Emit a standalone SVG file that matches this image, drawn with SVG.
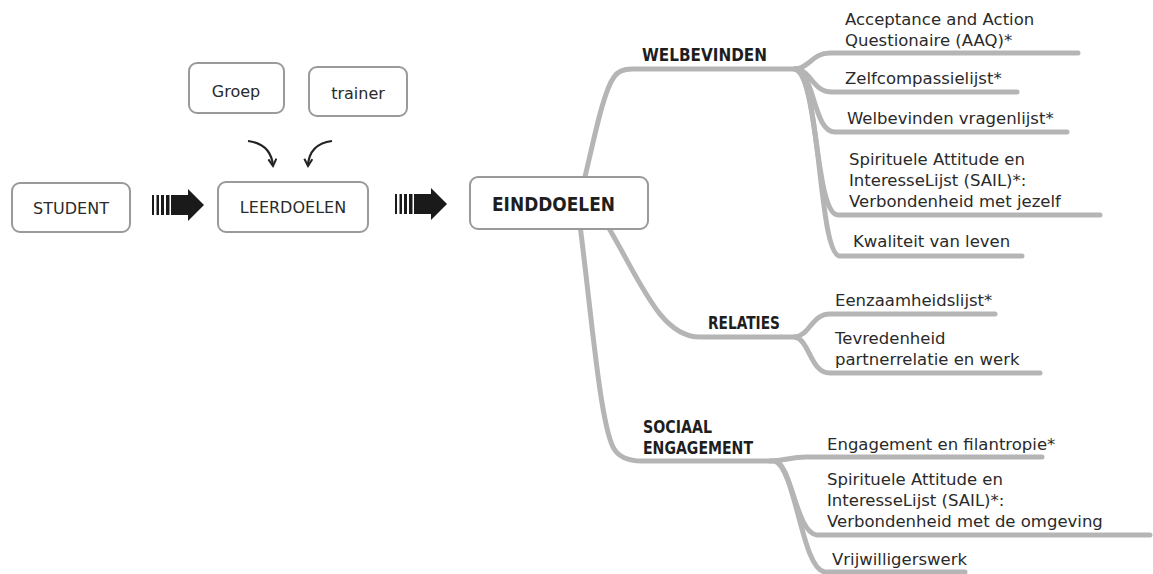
<svg xmlns="http://www.w3.org/2000/svg" width="1153" height="574" viewBox="0 0 1153 574">
<style>
.box{fill:#fff;stroke:#9a9a9a;stroke-width:2}
.bt{font-family:"DejaVu Sans",sans-serif;font-size:16px;fill:#2a2a2a;text-anchor:middle}
.hd{font-family:"DejaVu Sans",sans-serif;font-size:17px;font-weight:bold;fill:#1e1e1e}
.lf{font-family:"DejaVu Sans",sans-serif;font-size:16.5px;fill:#2a2a2a}
.br{fill:none;stroke:#b5b5b5;stroke-width:5;stroke-linecap:round;stroke-linejoin:round}
.cv{fill:none;stroke:#222;stroke-width:2.2}
</style>
<defs>
<marker id="chev" viewBox="0 0 10 10" refX="8" refY="5" markerWidth="10" markerHeight="10" orient="auto" markerUnits="userSpaceOnUse">
<path d="M1 1 L8 5 L1 9" fill="none" stroke="#222" stroke-width="2"/>
</marker>
<g id="sarrow" fill="#1a1a1a">
<rect x="0" y="-10" width="2" height="20"/>
<rect x="4.5" y="-10" width="2.5" height="20"/>
<rect x="9" y="-10" width="3" height="20"/>
<rect x="14" y="-10" width="3.5" height="20"/>
<rect x="19" y="-10" width="18" height="20"/>
<polygon points="36,-16 52,0 36,16"/>
</g>
</defs>
<g id="connectors">
<path class="br" d="M583 185 C594 140 603 92 614 77 Q619 69 632 69 L800 69"/>
<path class="br" d="M795 69 C810 68 812 53 830 53 L1078 53"/>
<path class="br" d="M795 69 C812 70 812 92 832 92 L1017 92"/>
<path class="br" d="M795 69 C815 72 813 132 835 132 L1067 132"/>
<path class="br" d="M795 69 C818 75 815 215 838 215 L1100 215"/>
<path class="br" d="M795 69 C821 76 818 256 840 256 L1022 256"/>
<path class="br" d="M607 225 C640 280 660 337 700 337 L798 337"/>
<path class="br" d="M795 337 C810 335 812 314 830 314 L995 314"/>
<path class="br" d="M795 337 C810 340 810 373 830 373 L1040 373"/>
<path class="br" d="M580 225 C592 320 600 420 613 447 Q620 461 642 461 L778 461"/>
<path class="br" d="M770 461 C785 461 790 457 806 457 L1042 457"/>
<path class="br" d="M775 461 C792 465 796 533 817 535 L1150 535"/>
<path class="br" d="M775 461 C796 470 802 570 825 572 L965 572"/>
<path class="cv" marker-end="url(#chev)" d="M248 141 Q271 144 273 166"/>
<path class="cv" marker-end="url(#chev)" d="M332 141 Q309 144 308 166"/>
<use href="#sarrow" x="152" y="205"/>
<use href="#sarrow" x="395" y="204"/>
</g>
<g id="student"><rect class="box" x="12" y="183" width="118" height="49" rx="8"/><text class="bt" x="71" y="214">STUDENT</text></g>
<g id="leerdoelen"><rect class="box" x="218" y="182" width="150" height="50" rx="8"/><text class="bt" x="293" y="213">LEERDOELEN</text></g>
<g id="groep"><rect class="box" x="189" y="63" width="95" height="50" rx="8"/><text class="bt" x="236" y="97">Groep</text></g>
<g id="trainer"><rect class="box" x="309" y="67" width="98" height="49" rx="8"/><text class="bt" x="358" y="99">trainer</text></g>
<g id="einddoelen"><rect class="box" x="470" y="177" width="178" height="52" rx="8"/><text class="hd" style="font-size:20px" x="492" y="211" textLength="123" lengthAdjust="spacingAndGlyphs">EINDDOELEN</text></g>
<g id="welbevinden"><text class="hd" x="642" y="61" textLength="125" lengthAdjust="spacingAndGlyphs">WELBEVINDEN</text></g>
<g id="relaties"><text class="hd" x="708" y="329" textLength="72" lengthAdjust="spacingAndGlyphs">RELATIES</text></g>
<g id="sociaal"><text class="hd" x="643" y="433" textLength="69" lengthAdjust="spacingAndGlyphs">SOCIAAL</text><text class="hd" x="643" y="454" textLength="110" lengthAdjust="spacingAndGlyphs">ENGAGEMENT</text></g>
<g id="aaq"><text class="lf" x="845" y="25">Acceptance and Action</text><text class="lf" x="845" y="46">Questionaire (AAQ)*</text></g>
<g id="zelf"><text class="lf" x="845" y="84">Zelfcompassielijst*</text></g>
<g id="wbv"><text class="lf" x="847" y="124">Welbevinden vragenlijst*</text></g>
<g id="sail1"><text class="lf" x="849" y="165">Spirituele Attitude en</text><text class="lf" x="849" y="186">InteresseLijst (SAIL)*:</text><text class="lf" x="849" y="207">Verbondenheid met jezelf</text></g>
<g id="kwaliteit"><text class="lf" x="853" y="247">Kwaliteit van leven</text></g>
<g id="eenzaam"><text class="lf" x="835" y="306">Eenzaamheidslijst*</text></g>
<g id="tevreden"><text class="lf" x="835" y="344">Tevredenheid</text><text class="lf" x="835" y="365">partnerrelatie en werk</text></g>
<g id="engagement"><text class="lf" x="827" y="450">Engagement en filantropie*</text></g>
<g id="sail2"><text class="lf" x="827" y="485">Spirituele Attitude en</text><text class="lf" x="827" y="506">InteresseLijst (SAIL)*:</text><text class="lf" x="827" y="527">Verbondenheid met de omgeving</text></g>
<g id="vrijwillig"><text class="lf" x="832" y="565">Vrijwilligerswerk</text></g>
</svg>
